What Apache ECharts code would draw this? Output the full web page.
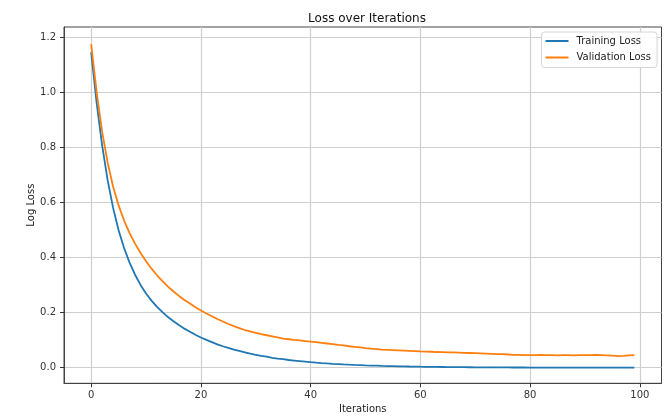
<!DOCTYPE html>
<html>
<head>
<meta charset="utf-8">
<script src="https://cdn.jsdelivr.net/npm/echarts@6/dist/echarts.min.js"></script>
<style>html,body{margin:0;padding:0;background:#fff}#c{width:671px;height:416px}</style>
</head>
<body>
<div id="c"></div>
<script>
const titleText = 'Loss over Iterations';
const xName = 'Iterations';
const yName = 'Log Loss';
const xTicks = [0, 20, 40, 60, 80, 100];
const yTicks = [0.0, 0.2, 0.4, 0.6, 0.8, 1.0, 1.2];
const seriesNames = ['Training Loss', 'Validation Loss'];

const trainingLoss = [
  1.147, 0.963, 0.808, 0.682, 0.581, 0.500, 0.435, 0.382, 0.338, 0.301,
  0.270, 0.244, 0.221, 0.202, 0.184, 0.169, 0.155, 0.142, 0.131, 0.120,
  0.110, 0.101, 0.093, 0.085, 0.078, 0.072, 0.066, 0.061, 0.056, 0.051,
  0.047, 0.043, 0.040, 0.036, 0.033, 0.031, 0.028, 0.026, 0.024, 0.022,
  0.0200, 0.0184, 0.0169, 0.0155, 0.0142, 0.0131, 0.0120, 0.0110, 0.0101, 0.0093,
  0.0085, 0.0078, 0.0072, 0.0066, 0.0061, 0.0056, 0.0051, 0.0047, 0.0043, 0.0040,
  0.0036, 0.0033, 0.0030, 0.0028, 0.0026, 0.0024, 0.0022, 0.0020, 0.0018, 0.0017,
  0.0015, 0.0014, 0.0013, 0.0012, 0.0011, 0.0010, 0.0009, 0.0008, 0.0008, 0.0007,
  0.0006, 0.0006, 0.0005, 0.0005, 0.0004, 0.0004, 0.0003, 0.0003, 0.0003, 0.0003,
  0.0002, 0.0002, 0.0002, 0.0002, 0.0002, 0.0001, 0.0001, 0.0001, 0.0001, 0.0001
];

const validationLoss = [
  1.176, 1.002, 0.858, 0.746, 0.658, 0.590, 0.535, 0.489, 0.451, 0.417,
  0.387, 0.360, 0.336, 0.315, 0.295, 0.277, 0.261, 0.246, 0.233, 0.220,
  0.208, 0.197, 0.187, 0.177, 0.168, 0.159, 0.151, 0.144, 0.137, 0.132,
  0.127, 0.122, 0.118, 0.114, 0.110, 0.106, 0.1035, 0.101, 0.099, 0.097,
  0.095, 0.093, 0.0905, 0.088, 0.0855, 0.083, 0.081, 0.078, 0.076, 0.074,
  0.071, 0.069, 0.0675, 0.066, 0.065, 0.064, 0.063, 0.062, 0.061, 0.060,
  0.059, 0.0585, 0.058, 0.057, 0.0565, 0.056, 0.0555, 0.055, 0.054, 0.0535,
  0.053, 0.052, 0.051, 0.050, 0.049, 0.049, 0.048, 0.047, 0.047, 0.046,
  0.046, 0.046, 0.047, 0.046, 0.046, 0.045, 0.046, 0.046, 0.045, 0.046,
  0.046, 0.046, 0.047, 0.046, 0.045, 0.044, 0.042, 0.043, 0.045, 0.046
];

const colors = ['#1f77b4', '#ff7f0e'];
const chart = echarts.init(document.getElementById('c'), null, {renderer: 'canvas'});
const font = 'DejaVu Sans';
const axisCommon = {
  axisLine: {show: true, onZero: false, lineStyle: {color: '#444', width: 1}},
  axisTick: {show: true, inside: false, length: 4, lineStyle: {color: '#333', width: 1}},
  splitLine: {show: true, lineStyle: {color: '#cfcfcf', width: 1.2}},
  nameTextStyle: {color: '#222', fontFamily: font, fontSize: 10},
  nameMoveOverlap: false
};
chart.setOption({
  animation: false,
  backgroundColor: '#fff',
  title: {
    text: titleText, left: 362, top: 8, textAlign: 'center',
    textStyle: {fontFamily: font, fontSize: 12, fontWeight: 'normal', color: '#111'}
  },
  legend: {
    orient: 'vertical', right: 14, top: 32,
    data: seriesNames,
    icon: 'rect', itemWidth: 23, itemHeight: 2, itemGap: 4.5,
    padding: [3, 6, 4, 4],
    borderColor: '#d6d6d6', borderWidth: 1, borderRadius: 3,
    backgroundColor: 'rgba(255,255,255,0.85)',
    textStyle: {fontFamily: font, fontSize: 10, color: '#222', lineHeight: 12, padding: [0, 0, 0, 3]}
  },
  grid: {left: 64, right: 9.5, top: 27, bottom: 32.7, show: true, borderColor: '#444', borderWidth: 1,
         containLabel: false, outerBoundsMode: 'none'},
  xAxis: Object.assign({}, axisCommon, {
    type: 'value', min: -4.95, max: 103.95,
    name: xName, nameLocation: 'middle', nameGap: 21,
    axisTick: Object.assign({}, axisCommon.axisTick, {customValues: xTicks}),
    axisLabel: {customValues: xTicks, margin: 7, fontFamily: font, fontSize: 10, color: '#333'}
  }),
  yAxis: Object.assign({}, axisCommon, {
    type: 'value', min: -0.0567, max: 1.2386,
    name: yName, nameLocation: 'middle', nameGap: 28,
    axisTick: Object.assign({}, axisCommon.axisTick, {customValues: yTicks}),
    axisLabel: {customValues: yTicks, margin: 8, fontFamily: font, fontSize: 10, color: '#333',
      formatter: v => Number(v).toFixed(1)}
  }),
  series: [
    {name: seriesNames[0], type: 'line', showSymbol: false, symbol: 'none',
     lineStyle: {color: colors[0], width: 1.8}, itemStyle: {color: colors[0]},
     data: trainingLoss.map((v, i) => [i, v])},
    {name: seriesNames[1], type: 'line', showSymbol: false, symbol: 'none',
     lineStyle: {color: colors[1], width: 1.8}, itemStyle: {color: colors[1]},
     data: validationLoss.map((v, i) => [i, v])}
  ]
});
</script>
</body>
</html>
